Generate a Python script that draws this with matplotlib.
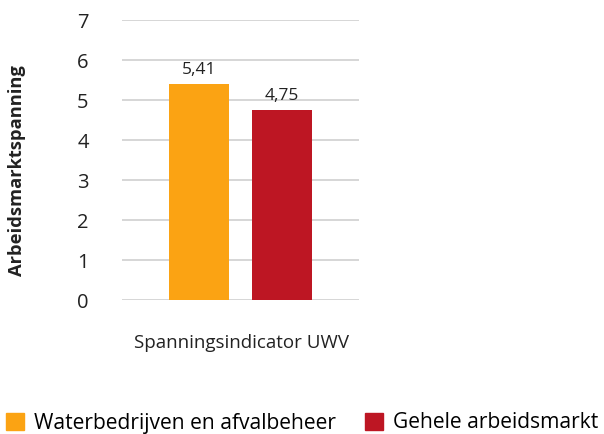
import matplotlib
matplotlib.use("Agg")
import matplotlib.pyplot as plt
from matplotlib.patches import Patch

plt.rcParams['font.family'] = ['Open Sans', 'DejaVu Sans']

series = ["Waterbedrijven en afvalbeheer", "Gehele arbeidsmarkt"]
values = [5.41, 4.75]
labels = ["5,41", "4,75"]
colors = ["#FBA313", "#BD1623"]
category = "Spanningsindicator UWV"
yticks = [0, 1, 2, 3, 4, 5, 6, 7]

fig = plt.figure(figsize=(6.04, 4.34), dpi=100)
ax = fig.add_axes([122/604, 1-300/434, 237/604, 280/434])

x = list(range(len(values)))
bars = ax.bar(x, values, width=0.723, color=colors, zorder=3)
for xi, v, lab in zip(x, values, labels):
    ax.text(xi, v + 0.15, lab, ha='center', va='bottom', fontsize=12.5, color='#222222')

ax.set_xlim(-0.928, 1.928)
ax.set_ylim(0, 7)
ax.set_yticks(yticks)
ax.set_yticklabels([str(t) for t in yticks], fontsize=14.5, color='#222222')
ax.tick_params(axis='y', length=0, pad=24)
ax.set_xticks([])
ax.grid(axis='y', color='#cfcfcf', linewidth=1.2, zorder=0)
for s in ax.spines.values():
    s.set_visible(False)

fig.text(17/604, 1-171/434, "Arbeidsmarktspanning", rotation=90, ha='center', va='center',
         fontsize=13.2, fontweight='bold', color='#222222')
fig.text(241/604, 1-343/434, category, ha='center', va='center', fontsize=13.5, color='#222222')

handles = [Patch(color=c) for c in colors]
fig.legend(handles, series, loc='center', bbox_to_anchor=(302/604, 1-423/434), ncol=2, frameon=False,
           fontsize=15.1, handlelength=0.86, handleheight=0.86, handletextpad=0.5, columnspacing=1.35,
           borderpad=0, borderaxespad=0)

fig.savefig("out.png", dpi=100)
